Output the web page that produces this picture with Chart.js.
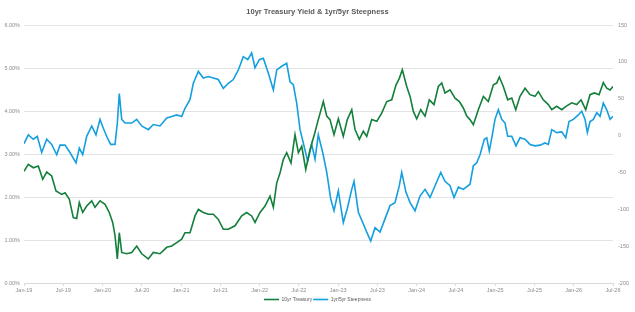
<!DOCTYPE html>
<html lang="en-US">
<head>
<meta charset="UTF-8">
<title>10yr Treasury Yield & 1yr/5yr Steepness</title>
<script src="https://cdn.jsdelivr.net/npm/chart.js@4.4.1/dist/chart.umd.min.js"></script>
<style>
  body { margin: 0; background: #fff; }
  #wrap { width: 635px; height: 312px; }
</style>
</head>
<body>
<div id="wrap"><canvas id="chart" width="635" height="312"></canvas></div>
<script>
// x positions are months since Jan-19
var tickLabels = ['Jan-19','Jul-19','Jan-20','Jul-20','Jan-21','Jul-21','Jan-22','Jul-22',
  'Jan-23','Jul-23','Jan-24','Jul-24','Jan-25','Jul-25','Jan-26','Jul-26'];

var yieldMonths = [0,0.66,1.42,2.19,2.86,3.47,4.23,4.89,5.76,6.27,6.92,7.53,8.05,8.45,8.97,9.58,
  10.35,10.85,11.61,12.38,13.03,13.55,13.91,14.26,14.56,14.93,15.69,16.46,17.22,17.99,18.99,19.76,
  20.78,21.81,22.57,23.33,24.1,24.6,25.37,26.13,26.64,27.4,28.16,28.93,29.69,30.46,31.22,32.24,
  33.27,34.03,34.79,35.3,36.06,36.83,37.59,38.1,38.62,39.12,39.62,40.14,40.8,41.41,41.92,42.44,
  43.05,43.7,44.4,44.97,45.74,46.26,46.76,47.37,48.03,48.79,49.4,50.08,50.58,51.24,51.85,52.37,
  53.13,53.9,54.66,55.43,56.19,56.85,57.35,57.81,58.48,58.99,59.49,60.01,60.62,61.28,61.93,62.65,
  63.31,63.83,64.33,65.1,65.86,66.52,67.13,67.65,68.15,68.66,69.42,70.19,70.95,71.72,72.23,72.63,
  73.24,73.91,74.53,75.14,75.79,76.56,77.32,78.09,78.59,79.35,80.12,80.64,81.4,82.17,82.93,83.7,
  84.46,85.12,85.83,86.49,87.15,87.87,88.52,89.04,89.55,90.0];
var yieldValues = [2.60,2.76,2.68,2.72,2.41,2.58,2.49,2.14,2.06,2.10,1.95,1.52,1.50,1.87,1.64,1.79,
  1.91,1.76,1.91,1.83,1.64,1.41,1.10,0.56,1.17,0.71,0.68,0.71,0.86,0.68,0.56,0.71,
  0.68,0.83,0.86,0.94,1.02,1.17,1.17,1.56,1.71,1.64,1.60,1.60,1.48,1.25,1.25,1.33,
  1.56,1.64,1.56,1.41,1.64,1.79,2.02,1.76,2.33,2.56,2.87,3.03,2.79,3.45,3.03,3.18,
  2.64,3.10,3.47,3.80,4.22,3.88,3.80,3.45,3.82,3.41,3.80,4.03,3.57,3.34,3.53,3.41,
  3.80,3.76,3.95,4.22,4.26,4.61,4.76,4.96,4.57,4.34,3.99,3.82,4.03,3.88,4.26,4.15,
  4.57,4.65,4.42,4.49,4.30,4.22,4.07,3.88,3.80,3.68,4.03,4.34,4.22,4.61,4.65,4.79,
  4.57,4.26,4.30,4.03,4.34,4.53,4.38,4.34,4.45,4.26,4.15,4.03,4.11,4.03,4.12,4.19,
  4.15,4.26,4.03,4.38,4.42,4.38,4.66,4.53,4.49,4.57];

var steepMonths = [0,0.66,1.42,2.03,2.7,3.47,4.23,5.0,5.5,6.27,7.03,7.95,8.45,8.97,9.58,10.35,
  11.0,11.61,12.12,12.73,13.25,13.91,14.26,14.56,14.93,15.43,16.46,17.22,17.99,18.99,19.76,20.78,
  21.81,22.57,23.33,24.1,24.6,25.37,25.87,26.64,27.4,28.16,28.93,29.69,30.46,31.22,31.98,32.75,
  33.51,34.19,34.79,35.3,35.96,36.57,37.33,38.1,38.62,39.38,40.14,40.65,41.15,41.67,42.18,42.68,
  43.35,43.96,44.47,44.97,45.64,46.26,46.87,47.37,48.03,48.79,49.4,50.08,50.43,51.09,51.85,52.37,
  52.98,53.64,54.4,55.16,55.93,56.69,57.35,57.72,58.37,58.99,59.75,60.51,61.28,62.04,62.81,63.68,
  64.33,65.1,65.71,66.37,67.13,68.15,68.66,69.18,69.68,70.34,70.71,71.1,71.56,71.97,72.48,73.0,
  73.5,73.91,74.53,75.18,75.79,76.56,77.32,78.09,78.85,79.61,80.12,80.64,81.4,82.17,82.78,83.28,
  83.94,84.7,85.22,85.73,86.08,86.49,87.0,87.52,88.02,88.52,89.04,89.55,90.0];
var steepValues = [-11,1,-5,-1,-23,-5,-12,-26,-13,-13,-23,-37,-17,-26,-1,13,
  1,22,10,-3,-12,-12,17,57,22,17,17,22,13,8,15,13,
  24,26,28,26,37,49,71,87,78,80,78,76,64,71,76,89,
  107,103,112,92,103,105,85,62,89,94,98,73,69,44,8,-10,
  -35,-12,-32,1,-23,-50,-86,-102,-75,-118,-99,-73,-62,-104,-120,-131,
  -143,-125,-131,-113,-95,-91,-68,-50,-77,-91,-102,-82,-73,-84,-68,-50,
  -62,-68,-84,-70,-73,-66,-41,-37,-26,-5,-3,-21,1,22,35,22,
  17,-1,-1,-14,-3,-5,-12,-14,-13,-10,-12,8,4,5,-3,19,
  22,28,33,22,4,19,22,31,26,44,35,22,26];

function toPoints(xs, ys) {
  return xs.map(function(x, i) { return { x: x, y: ys[i] }; });
}

var narrow = '"Liberation Sans Narrow", "Arial Narrow", "Liberation Sans", Arial, sans-serif';
var tickColor = '#8c8c8c';

var ctx = document.getElementById('chart').getContext('2d');
var chart = new Chart(ctx, {
  type: 'line',
  data: {
    datasets: [{
      label: '10yr Treasury',
      data: toPoints(yieldMonths, yieldValues),
      yAxisID: 'y',
      borderColor: '#137f3b',
      backgroundColor: '#137f3b',
      borderWidth: 1.6,
      pointRadius: 0,
      tension: 0
    }, {
      label: '1yr/5yr Steepness',
      data: toPoints(steepMonths, steepValues),
      yAxisID: 'y1',
      borderColor: '#159fde',
      backgroundColor: '#159fde',
      borderWidth: 1.6,
      pointRadius: 0,
      tension: 0
    }]
  },
  options: {
    responsive: false,
    animation: false,
    layout: { padding: 0 },
    plugins: {
      title: {
        display: true,
        text: '10yr Treasury Yield & 1yr/5yr Steepness',
        color: '#595959',
        font: { family: narrow, size: 7.5, weight: 'bold', lineHeight: 1.2 },
        padding: { top: 7.5, bottom: 8.5 }
      },
      legend: {
        position: 'bottom',
        labels: {
          color: '#595959',
          font: { family: narrow, size: 5 },
          usePointStyle: true,
          pointStyle: 'line',
          pointStyleWidth: 15,
          boxHeight: 5,
          padding: 1
        }
      },
      tooltip: { enabled: false }
    },
    scales: {
      x: {
        type: 'linear',
        min: 0,
        max: 90,
        afterFit: function(s) { s.height = 13; },
        afterBuildTicks: function(s) {
          s.ticks = tickLabels.map(function(t, i) { return { value: i * 6 }; });
        },
        ticks: {
          color: tickColor,
          font: { family: narrow, size: 5.5 },
          maxRotation: 0,
          autoSkip: false,
          padding: 1,
          callback: function(v) { return tickLabels[Math.round(v / 6)]; }
        },
        grid: { drawOnChartArea: false, drawTicks: true, tickLength: 3, color: '#d9d9d9' },
        border: { display: true, color: '#d9d9d9' }
      },
      y: {
        position: 'left',
        min: 0,
        max: 6,
        afterFit: function(s) { s.width = 24; },
        ticks: {
          stepSize: 1,
          color: tickColor,
          font: { family: narrow, size: 5.5 },
          padding: 4,
          callback: function(v) { return v.toFixed(2) + '%'; }
        },
        grid: { color: '#e3e3e3', drawTicks: false },
        border: { display: false }
      },
      y1: {
        position: 'right',
        min: -200,
        max: 150,
        afterFit: function(s) { s.width = 22; },
        ticks: {
          stepSize: 50,
          color: tickColor,
          font: { family: narrow, size: 5.5 },
          padding: 5
        },
        grid: { drawOnChartArea: false, drawTicks: false },
        border: { display: false }
      }
    }
  }
});
</script>
</body>
</html>
